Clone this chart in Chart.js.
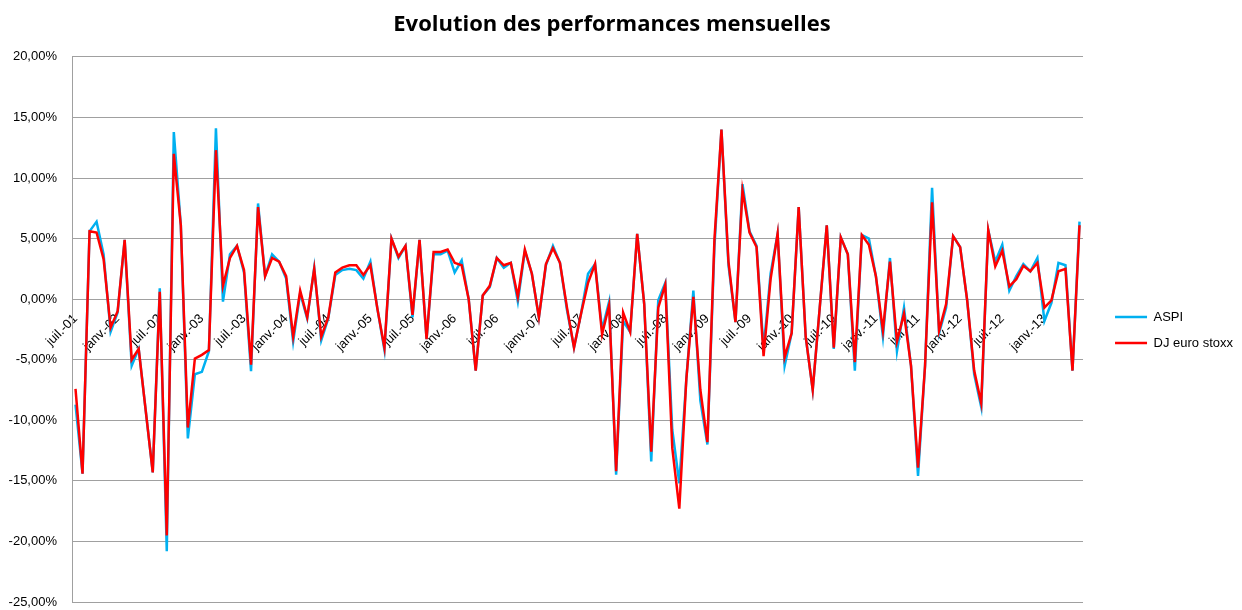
<!DOCTYPE html>
<html>
<head>
<meta charset="utf-8">
<script src="https://cdn.jsdelivr.net/npm/chart.js@4.4.1/dist/chart.umd.min.js"></script>
<style>
  body { margin: 0; background: #fff; }
</style>
</head>
<body>
<canvas id="perfChart" width="1242" height="610"></canvas>
<script>
// monthly returns (%), juil. 2001 -> juin 2013
var startYear = 2001;
var startMonth = 6; // juillet
var monthNames = ['janv.', 'févr.', 'mars', 'avr.', 'mai', 'juin', 'juil.', 'août', 'sept.', 'oct.', 'nov.', 'déc.'];

var tickLabels = ['juil.-01', 'janv.-02', 'juil.-02', 'janv.-03', 'juil.-03', 'janv.-04', 'juil.-04',
  'janv.-05', 'juil.-05', 'janv.-06', 'juil.-06', 'janv.-07', 'juil.-07', 'janv.-08', 'juil.-08',
  'janv.-09', 'juil.-09', 'janv.-10', 'juil.-10', 'janv.-11', 'juil.-11', 'janv.-12', 'juil.-12', 'janv.-13'];

var aspi = [
  -8.7, -14.4, 5.6, 6.4, 3.7, -2.7, -1.1, 4.9, -5.5, -4.1, -9.2, -14.3,
  0.9, -20.8, 13.8, 6.1, -11.5, -6.2, -6.0, -4.3, 14.1, -0.2, 3.7, 4.4,
  2.2, -5.95, 7.9, 1.9, 3.7, 3.1, 1.7, -3.5, 0.5, -1.6, 2.6, -3.4,
  -1.6, 2.0, 2.4, 2.5, 2.4, 1.7, 3.1, -0.8, -4.2, 5.0, 3.4, 4.4,
  -1.5, 4.9, -3.3, 3.7, 3.7, 4.0, 2.2, 3.2, 0.0, -5.9, 0.3, 1.0,
  3.4, 2.6, 3.0, -0.2, 4.0, 2.1, -1.5, 2.8, 4.4, 3.0, -0.9, -4.0,
  -1.2, 2.1, 2.9, -2.5, -0.2, -14.5, -1.8, -2.7, 5.4, -0.4, -13.4, -0.1,
  1.35, -10.8, -15.2, -6.6, 0.7, -8.4, -12.0, 4.3, 14.0, 2.8, -1.9, 9.5,
  5.6, 4.4, -4.1, 2.1, 5.4, -5.5, -2.8, 7.6, -3.1, -7.5, -0.7, 6.1,
  -4.1, 5.1, 3.7, -5.9, 5.3, 5.0, 1.9, -3.1, 3.4, -4.3, -0.7, -5.5,
  -14.6, -5.5, 9.2, -2.8, -0.7, 5.2, 4.3, -0.1, -6.2, -8.9, 5.7, 3.1,
  4.5, 0.7, 1.9, 2.9, 2.3, 3.4, -1.8, -0.3, 3.0, 2.8, -5.9, 6.4
];

var djEuroStoxx = [
  -7.4, -14.4, 5.6, 5.5, 3.3, -2.35, -1.0, 4.9, -5.0, -4.1, -9.2, -14.3,
  0.6, -19.5, 12.0, 6.1, -10.6, -4.9, -4.6, -4.2, 12.3, 1.1, 3.4, 4.4,
  2.4, -5.4, 7.6, 1.9, 3.4, 3.1, 1.9, -3.1, 0.7, -1.5, 2.5, -3.1,
  -1.5, 2.2, 2.6, 2.8, 2.8, 2.0, 2.8, -0.8, -4.0, 5.0, 3.5, 4.4,
  -1.3, 4.9, -3.3, 3.9, 3.9, 4.1, 3.0, 2.8, 0.0, -5.9, 0.3, 1.1,
  3.4, 2.8, 3.0, 0.2, 4.1, 2.1, -1.5, 2.9, 4.2, 3.0, -0.7, -4.0,
  -1.2, 1.35, 2.9, -2.9, -0.5, -14.2, -1.1, -2.7, 5.4, -0.4, -12.6, -0.7,
  1.2, -12.3, -17.3, -6.6, 0.2, -7.5, -11.8, 4.9, 14.0, 3.1, -1.9, 9.0,
  5.5, 4.3, -4.7, 1.65, 5.4, -4.8, -2.8, 7.6, -3.1, -7.5, -0.7, 6.1,
  -4.0, 5.1, 3.7, -5.2, 5.3, 4.5, 1.9, -2.6, 3.1, -3.5, -1.2, -5.5,
  -13.9, -5.5, 8.0, -2.6, -0.4, 5.2, 4.3, -0.1, -5.9, -8.6, 5.7, 2.7,
  4.0, 1.05, 1.65, 2.75, 2.3, 3.0, -0.7, -0.1, 2.3, 2.5, -5.9, 6.1
];

var months = [];
for (var i = 0; i < aspi.length; i++) {
  var m = (startMonth + i) % 12;
  var y = startYear + Math.floor((startMonth + i) / 12);
  months.push(monthNames[m] + '-' + String(y).slice(2));
}

var gridGray = '#a0a0a0';

Chart.defaults.font.family = "'Liberation Sans', Arial, sans-serif";
Chart.defaults.color = '#000';

// push legend items away from the plot and down, like the original
var legendNudge = {
  id: 'legendNudge',
  afterLayout: function(chart) {
    chart.legend.left += 19;
    chart.legend.right += 19;
    chart.legend.top += 29;
    chart.legend.bottom += 29;
  }
};

var chart = new Chart(document.getElementById('perfChart'), {
  type: 'line',
  data: {
    labels: months,
    datasets: [{
      label: 'ASPI',
      data: aspi,
      borderColor: '#00B0F0',
      backgroundColor: '#00B0F0',
      borderWidth: 2.5,
      pointRadius: 0,
      tension: 0,
      order: 2
    }, {
      label: 'DJ euro stoxx',
      data: djEuroStoxx,
      borderColor: '#FF0000',
      backgroundColor: '#FF0000',
      borderWidth: 2.5,
      pointRadius: 0,
      tension: 0,
      order: 1
    }]
  },
  options: {
    responsive: false,
    animation: false,
    devicePixelRatio: 1,
    layout: { padding: { left: 0, right: 18, top: 0, bottom: 8 } },
    plugins: {
      title: {
        display: true,
        text: 'Evolution des performances mensuelles',
        font: { family: "'Open Sans', sans-serif", size: 22, weight: 'bold' },
        color: '#000',
        padding: { top: 12, bottom: 18.5 }
      },
      legend: {
        position: 'right',
        labels: {
          usePointStyle: true,
          pointStyle: 'line',
          pointStyleWidth: 32,
          boxHeight: 13,
          font: { size: 13 },
          color: '#000',
          padding: 13,
          sort: function(a, b) { return a.datasetIndex - b.datasetIndex; }
        }
      },
      tooltip: { enabled: false }
    },
    scales: {
      x: {
        position: { y: 0 },
        offset: true,
        grid: { display: false },
        border: { display: true, color: gridGray },
        ticks: {
          autoSkip: false,
          minRotation: 45,
          maxRotation: 45,
          padding: 4,
          font: { size: 13 },
          color: '#000',
          callback: function(value) {
            var lab = this.getLabelForValue(value);
            return tickLabels.indexOf(lab) >= 0 ? lab : '';
          }
        }
      },
      y: {
        min: -25,
        max: 20,
        afterFit: function(scale) {
          scale.width = 72;
          scale.paddingTop = 0;
          scale.paddingBottom = 0;
        },
        grid: { color: gridGray, drawTicks: false },
        border: { color: gridGray },
        ticks: {
          stepSize: 5,
          padding: 15,
          font: { size: 13 },
          color: '#000',
          callback: function(v) { return v.toFixed(2).replace('.', ',') + '%'; }
        }
      }
    }
  },
  plugins: [legendNudge]
});
</script>
</body>
</html>
